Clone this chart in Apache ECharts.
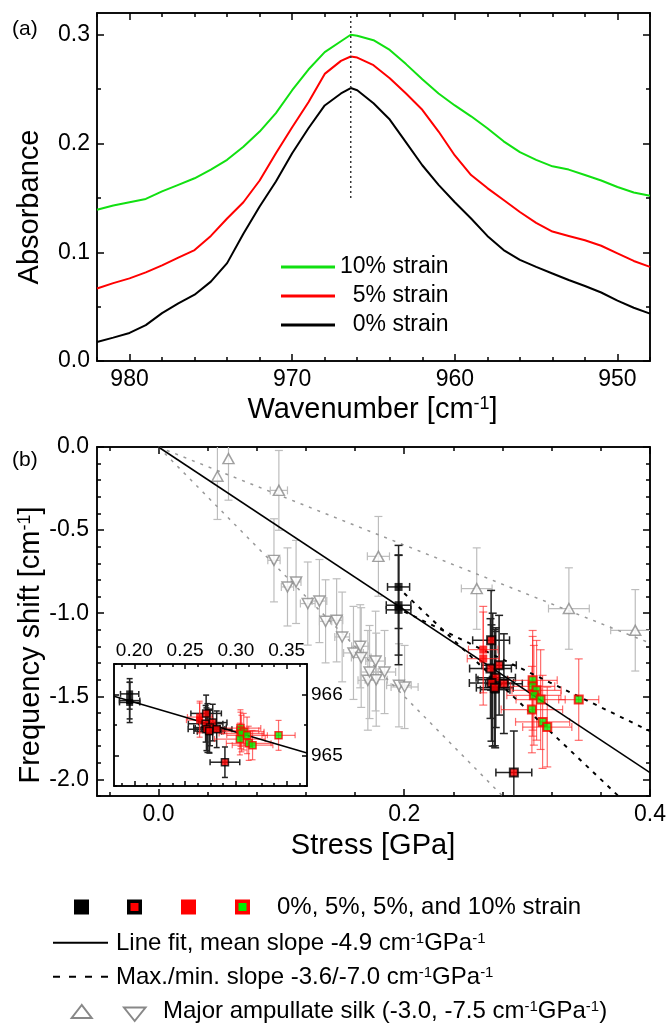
<!DOCTYPE html>
<html><head><meta charset="utf-8">
<script src="https://cdn.jsdelivr.net/npm/echarts@6/dist/echarts.min.js"></script>
<style>html,body{margin:0;padding:0;background:#fff}#c{width:666px;height:1024px}</style>
</head><body><div id="c"></div>
<script>
const FONT = "'Liberation Sans', Arial, Helvetica, sans-serif";

// ---------- Panel (a): absorbance spectra ----------
const wavenumber = [982,981,980,979,978,977,976,975,974,973,972,971,970,969,968,967,966.4,966,965,964,963,962,961,960,959,958,957,956,955,954,953,952,951,950,949,948];
const absorbance10 = [0.139,0.143,0.146,0.149,0.156,0.162,0.168,0.176,0.185,0.197,0.211,0.228,0.249,0.268,0.284,0.294,0.300,0.299,0.295,0.286,0.273,0.259,0.246,0.235,0.225,0.214,0.202,0.192,0.185,0.179,0.176,0.171,0.166,0.160,0.155,0.152];
const absorbance5 = [0.0666,0.0716,0.0760,0.0815,0.088,0.095,0.102,0.115,0.131,0.146,0.166,0.191,0.215,0.238,0.264,0.276,0.280,0.279,0.272,0.260,0.246,0.231,0.211,0.189,0.171,0.159,0.148,0.137,0.127,0.119,0.115,0.111,0.106,0.099,0.092,0.0866];
const absorbance0 = [0.0175,0.0215,0.0258,0.033,0.044,0.053,0.061,0.073,0.090,0.117,0.142,0.165,0.191,0.214,0.235,0.246,0.251,0.249,0.237,0.222,0.201,0.180,0.162,0.146,0.131,0.115,0.102,0.093,0.0865,0.0805,0.0745,0.069,0.063,0.0555,0.049,0.0436];
const peakWavenumber = 966.4;
const peakMarkerRange = [0.15, 0.32];
const spectraNames = ['10% strain', '  5% strain', '  0% strain'];

// ---------- Panel (b): frequency shift vs stress  [stress, shift, stressErr, shiftErr] ----------
const silkUp = [[0.048,-0.176,0,0.26],[0.057,-0.070,0,0.25],[0.098,-0.261,0.007,0.24],[0.179,-0.658,0.009,0.24],[0.259,-0.852,0.0125,0.245],[0.334,-0.972,0.0166,0.245],[0.388,-1.103,0.02,0.245]];
const silkDown = [[0.094,-0.682,0.005,0.25],[0.105,-0.842,0.005,0.235],[0.112,-0.812,0.004,0.25],[0.1215,-0.942,0.006,0.25],[0.131,-0.927,0.006,0.25],[0.136,-1.049,0.005,0.25],[0.145,-1.043,0.005,0.25],[0.1495,-1.143,0.006,0.27],[0.1587,-1.239,0.008,0.28],[0.1642,-1.199,0.007,0.25],[0.165,-1.267,0.008,0.3],[0.1704,-1.404,0.008,0.3],[0.1718,-1.354,0.007,0.28],[0.1767,-1.288,0.008,0.3],[0.1772,-1.400,0.009,0.28],[0.184,-1.354,0.009,0.25],[0.1957,-1.434,0.01,0.25],[0.2003,-1.444,0.011,0.25]];
const strain0 = [[0.1954,-0.842,0.009,0.25],[0.1954,-0.952,0.01,0.3],[0.1954,-0.98,0.01,0.33],[0.272,-1.40,0.012,0.4],[0.274,-1.46,0.012,0.35]];
const strain5Outlined = [[0.2707,-1.163,0.015,0.3],[0.2702,-1.333,0.017,0.3],[0.2772,-1.313,0.014,0.3],[0.2745,-1.388,0.016,0.3],[0.271,-1.42,0.018,0.35],[0.2737,-1.448,0.015,0.35],[0.2811,-1.424,0.015,0.3],[0.2892,-1.959,0.0146,0.25]];
const strain5 = [[0.2643,-1.219,0.012,0.26],[0.2643,-1.273,0.013,0.28]];
const strain10 = [[0.3045,-1.404,0.02,0.3],[0.3045,-1.44,0.018,0.3],[0.3077,-1.464,0.02,0.3],[0.3055,-1.494,0.022,0.3],[0.311,-1.52,0.02,0.3],[0.3039,-1.58,0.025,0.26],[0.3126,-1.654,0.022,0.28],[0.3164,-1.685,0.02,0.24],[0.342,-1.52,0.0163,0.245]];
const meanFit = [[0,0],[0.4,-1.96]];
const maxSlopeFit = [[0.2,-0.99],[0.4,-1.71]];
const minSlopeFit = [[0.2,-0.88],[0.4,-2.28]];
const silkUpperFit = [[0,0],[0.4,-1.18]];
const silkLowerFit = [[0,0],[0.4,-3.0]];

// ---------- Inset: peak position vs stress [stress, wavenumber, stressErr, wnErr] ----------
const insetStrain0 = [[0.1954,966.01,0.009,0.25],[0.1954,965.90,0.01,0.3],[0.1954,965.87,0.01,0.33],[0.272,965.45,0.012,0.4],[0.274,965.39,0.012,0.35]];
const insetStrain5Outlined = [[0.2707,965.69,0.015,0.3],[0.2702,965.52,0.017,0.3],[0.2772,965.54,0.014,0.3],[0.2745,965.46,0.016,0.3],[0.271,965.43,0.018,0.35],[0.2737,965.40,0.015,0.35],[0.2811,965.43,0.015,0.3],[0.2892,964.89,0.0146,0.25]];
const insetStrain5 = [[0.2643,965.63,0.012,0.26],[0.2643,965.58,0.013,0.28]];
const insetStrain10 = [[0.3045,965.45,0.02,0.3],[0.3045,965.41,0.018,0.3],[0.3077,965.39,0.02,0.3],[0.3055,965.36,0.022,0.3],[0.311,965.33,0.02,0.3],[0.3039,965.27,0.025,0.26],[0.3126,965.20,0.022,0.28],[0.3164,965.17,0.02,0.24],[0.342,965.33,0.0163,0.245]];
const insetFit = [[0.18,965.97],[0.37,965.04]];

// ---------- Tick labels ----------
const ticksAX = [950,960,970,980];
const ticksAY = [0,0.1,0.2,0.3];
const ticksBX = [0,0.2,0.4];
const ticksBY = [-2,-1.5,-1,-0.5,0];
const ticksInsetX = [0.20,0.25,0.30,0.35];
const ticksInsetY = [965,966];

function steps(from, to, step){const o=[];const n=Math.round((to-from)/step);for(let i=0;i<=n;i++)o.push(+(from+i*step).toFixed(6));return o;}

function axis(grid, pos, min, max, ticks, len, labelOpt, extra){
  const a = {
    type:'value', gridIndex:grid, position:pos, min:min, max:max,
    axisLine:{show:true,onZero:false,lineStyle:{color:'#000',width:1.5}},
    axisTick:{show:true,inside:true,length:len,customValues:ticks,lineStyle:{color:'#000',width:1.5}},
    axisLabel: labelOpt ? Object.assign({show:true,customValues:ticks,color:'#000',fontSize:23,fontFamily:FONT,margin:7}, labelOpt) : {show:false},
    splitLine:{show:false}, minorTick:{show:false}, minorSplitLine:{show:false}
  };
  return Object.assign(a, extra||{});
}
const f1 = v => v.toFixed(1), f2 = v => v.toFixed(2), f0 = v => v.toFixed(0);
const invA = {inverse:true};
const zi = {z:12};

const xAxes = [
  axis(0,'bottom',948,982,ticksAX,7,{formatter:f0},invA),
  axis(0,'bottom',948,982,steps(948,982,2),4,null,invA),
  axis(0,'top',948,982,ticksAX,7,null,invA),
  axis(0,'top',948,982,steps(948,982,2),4,null,invA),
  axis(1,'bottom',-0.05,0.4,ticksBX,7,{formatter:f1}),
  axis(1,'bottom',-0.05,0.4,steps(-0.04,0.4,0.04),4,null),
  axis(1,'top',-0.05,0.4,ticksBX,7,null),
  axis(1,'top',-0.05,0.4,steps(-0.04,0.4,0.04),4,null),
  axis(2,'bottom',0.18,0.37,ticksInsetX,5,null,zi),
  axis(2,'bottom',0.18,0.37,steps(0.1875,0.3625,0.0125),3,null,zi),
  axis(2,'top',0.18,0.37,ticksInsetX,5,{formatter:f2,fontSize:19,margin:4},zi),
  axis(2,'top',0.18,0.37,steps(0.1875,0.3625,0.0125),3,null,zi)
];
const yAxes = [
  axis(0,'left',0,0.32,ticksAY,7,{formatter:f1}),
  axis(0,'left',0,0.32,steps(0,0.3,0.05),4,null),
  axis(0,'right',0,0.32,ticksAY,7,null),
  axis(0,'right',0,0.32,steps(0,0.3,0.05),4,null),
  axis(1,'left',-2.1,0,ticksBY,7,{formatter:f1,margin:8}),
  axis(1,'left',-2.1,0,steps(-2.1,0,0.1),4,null),
  axis(1,'right',-2.1,0,ticksBY,7,null),
  axis(1,'right',-2.1,0,steps(-2.1,0,0.1),4,null),
  axis(2,'left',964.5,966.5,ticksInsetY,5,null,zi),
  axis(2,'left',964.5,966.5,steps(964.5,966.5,0.5),3,null,zi),
  axis(2,'right',964.5,966.5,ticksInsetY,5,{formatter:f0,fontSize:19,margin:4},zi),
  axis(2,'right',964.5,966.5,steps(964.5,966.5,0.5),3,null,zi)
];
// primary axis index for each grid
const AX_A = 0, AX_B = 4, AX_IN = 8;

function errorBars(data, ax, color, lw, cap, z){
  return {type:'custom', xAxisIndex:ax, yAxisIndex:ax, data:data, z:z, clip:true, silent:true,
    encode:{x:0,y:1},
    renderItem:function(params, api){
      const x=api.value(0), y=api.value(1), xe=api.value(2), ye=api.value(3);
      const t=api.coord([x,y+ye]), b=api.coord([x,y-ye]), l=api.coord([x-xe,y]), r=api.coord([x+xe,y]);
      const st={stroke:color,lineWidth:lw,fill:null};
      const ch=[];
      const ln=(x1,y1,x2,y2)=>ch.push({type:'line',shape:{x1:x1,y1:y1,x2:x2,y2:y2},style:st});
      if(ye>0){ln(t[0],t[1],b[0],b[1]);ln(t[0]-cap,t[1],t[0]+cap,t[1]);ln(b[0]-cap,b[1],b[0]+cap,b[1]);}
      if(xe>0){ln(l[0],l[1],r[0],r[1]);ln(l[0],l[1]-cap,l[0],l[1]+cap);ln(r[0],r[1]-cap,r[0],r[1]+cap);}
      return {type:'group',children:ch};
    }};
}
function markers(data, ax, symbol, size, style, z, rotate){
  return {type:'scatter', xAxisIndex:ax, yAxisIndex:ax, data:data.map(d=>[d[0],d[1]]), symbol:symbol, symbolSize:size, symbolRotate:rotate||0, itemStyle:style, z:z, silent:true, clip:true};
}
function fitLine(data, ax, color, width, type, z){
  return {type:'line', xAxisIndex:ax, yAxisIndex:ax, data:data, symbol:'none', showSymbol:false, lineStyle:{color:color,width:width,type:type}, z:z, silent:true, clip:true};
}
function spectrum(name, values, color){
  return {type:'line', name:name, xAxisIndex:AX_A, yAxisIndex:AX_A, data:wavenumber.map((w,i)=>[w,values[i]]), symbol:'none', showSymbol:false, lineStyle:{color:color,width:2}, itemStyle:{color:color}, z:3, silent:true};
}

const GRAY_BAR='#bdbdbd', BLACK_BAR='#222', RED_BAR='rgba(255,30,30,0.65)';
const triStyle={color:'#fff',borderColor:'#8a8a8a',borderWidth:1.5};
const sBlack={color:'#000'}, sBlackRed={color:'#ff0000',borderColor:'#000',borderWidth:2}, sRed={color:'#ff0000'}, sRedGreen={color:'#00ee00',borderColor:'#ff0000',borderWidth:2};

const series = [
  spectrum(spectraNames[2], absorbance0, '#000000'),
  spectrum(spectraNames[1], absorbance5, '#ff0000'),
  spectrum(spectraNames[0], absorbance10, '#11e011'),
  fitLine([[peakWavenumber,peakMarkerRange[0]],[peakWavenumber,peakMarkerRange[1]]],AX_A,'#333',1.5,[2,3],4),
  // panel b
  fitLine(silkUpperFit,AX_B,'#999',1.5,[3,6],2),
  fitLine(silkLowerFit,AX_B,'#999',1.5,[3,6],2),
  errorBars(silkUp,AX_B,GRAY_BAR,1.2,4,2),
  errorBars(silkDown,AX_B,GRAY_BAR,1.2,4,2),
  markers(silkUp,AX_B,'triangle',[11,10],triStyle,3),
  markers(silkDown,AX_B,'triangle',[11,10],triStyle,3,180),
  errorBars(strain0,AX_B,BLACK_BAR,1.5,4,4),
  errorBars(strain5Outlined,AX_B,BLACK_BAR,1.5,4,4),
  errorBars(strain5,AX_B,RED_BAR,1.2,4,4),
  errorBars(strain10,AX_B,RED_BAR,1.2,4,4),
  fitLine(maxSlopeFit,AX_B,'#000',2,[4,6],5),
  fitLine(minSlopeFit,AX_B,'#000',2,[4,6],5),
  fitLine(meanFit,AX_B,'#000',1.5,'solid',5),
  markers(strain0,AX_B,'rect',8,sBlack,6),
  markers(strain5,AX_B,'rect',8,sRed,6),
  markers(strain5Outlined,AX_B,'rect',8,sBlackRed,6),
  markers(strain10,AX_B,'rect',8,sRedGreen,6),
  // inset
  errorBars(insetStrain0,AX_IN,BLACK_BAR,1.5,3,13),
  errorBars(insetStrain5Outlined,AX_IN,BLACK_BAR,1.5,3,13),
  errorBars(insetStrain5,AX_IN,RED_BAR,1.2,3,13),
  errorBars(insetStrain10,AX_IN,RED_BAR,1.2,3,13),
  fitLine(insetFit,AX_IN,'#000',1.5,'solid',14),
  markers(insetStrain0,AX_IN,'rect',7,sBlack,15),
  markers(insetStrain5,AX_IN,'rect',7,sRed,15),
  markers(insetStrain5Outlined,AX_IN,'rect',7,{color:'#ff0000',borderColor:'#000',borderWidth:1.5},15),
  markers(insetStrain10,AX_IN,'rect',7,{color:'#00ee00',borderColor:'#ff0000',borderWidth:1.5},15)
];

const sup = {fontSize:15, fontFamily:FONT, fill:'#000', verticalAlign:'top'};
const supBig = {fontSize:18, fontFamily:FONT, fill:'#000', verticalAlign:'top'};
function txt(x,y,text,size,align,rotation){
  return {type:'text', x:x, y:y, rotation:rotation||0, silent:true, z:20,
    style:{text:text, fontSize:size, fontFamily:FONT, fill:'#000', align:align||'left', verticalAlign:'middle', rich:{s:size>25?supBig:sup}}};
}
const graphic = [
  txt(12,29,'(a)',21),
  txt(12,460,'(b)',21),
  txt(30,207,'Absorbance',29,'center',Math.PI/2),
  txt(372.5,410,'Wavenumber [cm{s|-1}]',29,'center'),
  txt(31,645,'Frequency shift [cm{s|-1}]',29,'center',Math.PI/2),
  txt(373,846,'Stress [GPa]',29,'center'),
  // bottom legend
  {type:'rect', shape:{x:74,y:899.5,width:15,height:15}, style:{fill:'#000'}, z:20},
  {type:'rect', shape:{x:127,y:899.5,width:15,height:15}, style:{fill:'#000'}, z:20},
  {type:'rect', shape:{x:130.5,y:903,width:8,height:8}, style:{fill:'#ff0000'}, z:21},
  {type:'rect', shape:{x:181,y:899.5,width:15,height:15}, style:{fill:'#ff0000'}, z:20},
  {type:'rect', shape:{x:235,y:899.5,width:15,height:15}, style:{fill:'#ff0000'}, z:20},
  {type:'rect', shape:{x:238.5,y:903,width:8,height:8}, style:{fill:'#00ee00'}, z:21},
  txt(277,907,'0%, 5%, 5%, and 10% strain',24),
  {type:'line', shape:{x1:53,y1:942.7,x2:108,y2:942.7}, style:{stroke:'#000',lineWidth:2}, z:20},
  txt(116,943,'Line fit, mean slope -4.9 cm{s|-1}GPa{s|-1}',24),
  {type:'line', shape:{x1:53,y1:976.7,x2:108,y2:976.7}, style:{stroke:'#000',lineWidth:2,lineDash:[7,9]}, z:20},
  txt(116,977,'Max./min. slope -3.6/-7.0 cm{s|-1}GPa{s|-1}',24),
  {type:'polygon', shape:{points:[[81.7,1005],[71.7,1018],[91.7,1018]]}, style:{fill:'#fff',stroke:'#888',lineWidth:2}, z:20},
  {type:'polygon', shape:{points:[[124,1007.5],[145.5,1007.5],[134.7,1021]]}, style:{fill:'#fff',stroke:'#888',lineWidth:2}, z:20},
  txt(163,1011,'Major ampullate silk (-3.0, -7.5 cm{s|-1}GPa{s|-1})',24)
];

const chart = echarts.init(document.getElementById('c'), null, {renderer:'canvas'});
chart.setOption({
  animation:false,
  backgroundColor:'#fff',
  grid:[
    {left:97, top:13, width:553, height:348, outerBoundsMode:'none'},
    {left:97, top:447, width:553, height:349, outerBoundsMode:'none'},
    {left:114, top:664, width:193, height:122, show:true, backgroundColor:'#fff', borderWidth:0, z:10, outerBoundsMode:'none'}
  ],
  xAxis:xAxes,
  yAxis:yAxes,
  legend:{data:spectraNames, orient:'vertical', left:281, top:255.5, itemWidth:54, itemHeight:3, itemGap:6, icon:'rect', padding:0, selectedMode:false,
    textStyle:{fontSize:23, fontFamily:FONT, color:'#000', lineHeight:23}},
  series:series,
  graphic:graphic
});
</script></body></html>
